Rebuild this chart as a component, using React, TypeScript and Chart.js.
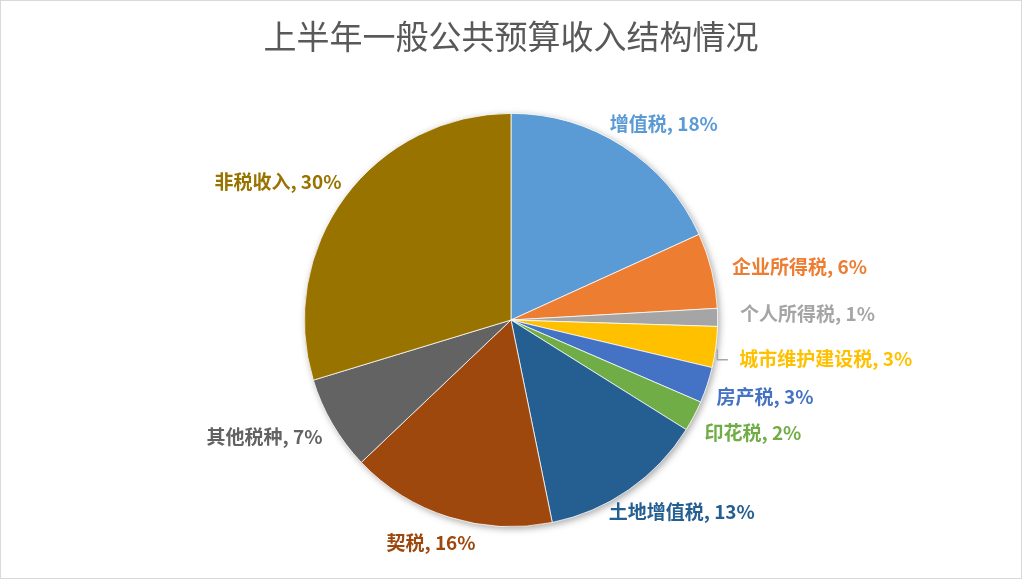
import React, { useEffect, useRef } from "react";
import { Chart, registerables } from "chart.js";

Chart.register(...registerables);

const TITLE = "上半年一般公共预算收入结构情况";
const categories = ["增值税", "企业所得税", "个人所得税", "城市维护建设税", "房产税", "印花税", "土地增值税", "契税", "其他税种", "非税收入"];
const values = [18.2, 5.9, 1.4, 3.2, 2.8, 2.4, 12.9, 16.1, 7.4, 29.7];
const colors = ["#5B9BD5", "#ED7D31", "#A5A5A5", "#FFC000", "#4472C4", "#70AD47", "#255E91", "#9E480E", "#636363", "#997300"];
// label nudges relative to the slice's outer mid-point (style only)
const labelOffsets: [number, number][] = [
  [41, -22], [88, -4], [90, -4], [110, 12], [58, 12], [59, 17], [53, 22], [-18, 26], [-68, 13], [-67, -15],
];
const leaderLines = [false, false, false, true, false, false, false, false, false, false];

const FONT = '"Noto Sans CJK SC", "Noto Sans", sans-serif';

const shadowPlugin = {
  id: "pieShadow",
  beforeDatasetsDraw(chart: any) {
    const meta = chart.getDatasetMeta(0);
    if (!meta.data.length) return;
    const a = meta.data[0];
    const ctx = chart.ctx;
    ctx.save();
    ctx.shadowColor = "rgba(0,0,0,0.35)";
    ctx.shadowBlur = 7;
    ctx.shadowOffsetX = 2;
    ctx.shadowOffsetY = 2;
    ctx.fillStyle = "#ffffff";
    ctx.beginPath();
    ctx.arc(a.x, a.y, a.outerRadius, 0, Math.PI * 2);
    ctx.fill();
    ctx.restore();
  },
};

const labelPlugin = {
  id: "pieLabels",
  afterDatasetsDraw(chart: any) {
    const meta = chart.getDatasetMeta(0);
    const ctx = chart.ctx;
    const total = values.reduce((s, v) => s + v, 0);
    ctx.save();
    ctx.font = `bold 19px ${FONT}`;
    ctx.textAlign = "center";
    ctx.textBaseline = "middle";
    meta.data.forEach((arc: any, i: number) => {
      const mid = (arc.startAngle + arc.endAngle) / 2;
      const ax = arc.x + Math.cos(mid) * arc.outerRadius;
      const ay = arc.y + Math.sin(mid) * arc.outerRadius;
      const pct = Math.round((values[i] / total) * 100);
      const text = `${categories[i]}, ${pct}%`;
      const [dx, dy] = labelOffsets[i];
      if (leaderLines[i]) {
        ctx.strokeStyle = "#A6A6A6";
        ctx.lineWidth = 1.5;
        ctx.beginPath();
        ctx.moveTo(ax + 1.5, ay + 2);
        ctx.lineTo(ax + 1.5, ay + 12.5);
        ctx.lineTo(ax + 12, ay + 12.5);
        ctx.stroke();
      }
      ctx.fillStyle = colors[i];
      ctx.fillText(text, ax + dx, ay + dy);
    });
    ctx.restore();
  },
};

export default function App() {
  const ref = useRef<HTMLCanvasElement | null>(null);
  useEffect(() => {
    document.body.style.margin = "0";
    if (!ref.current) return;
    const chart = new Chart(ref.current, {
      type: "pie",
      data: {
        labels: categories,
        datasets: [
          {
            data: values,
            backgroundColor: colors,
            borderColor: "#ffffff",
            borderWidth: 0.75,
            offset: 0,
            hoverOffset: 0,
          },
        ],
      },
      options: {
        responsive: false,
        animation: false,
        layout: { padding: { top: 16, bottom: 51, left: 200, right: 200 } },
        plugins: {
          legend: { display: false },
          tooltip: { enabled: false },
          title: {
            display: true,
            text: TITLE,
            color: "#595959",
            font: { size: 33, family: FONT, weight: "normal", lineHeight: 1.2 },
            padding: { top: 0, bottom: 56.4 },
          },
        },
      },
      plugins: [shadowPlugin, labelPlugin],
    });
    return () => chart.destroy();
  }, []);
  return (
    <div
      style={{
        width: 1022,
        height: 579,
        border: "1px solid #D9D9D9",
        boxSizing: "border-box",
        background: "#ffffff",
      }}
    >
      <canvas ref={ref} width={1020} height={577} style={{ display: "block" }} />
    </div>
  );
}
